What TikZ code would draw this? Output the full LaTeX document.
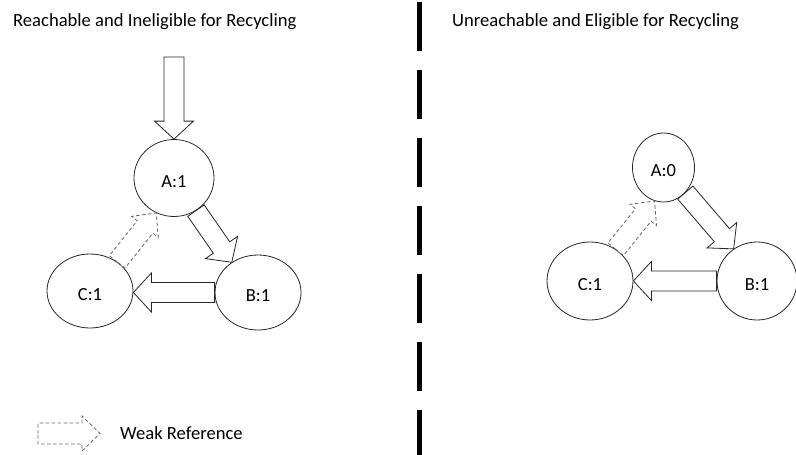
\documentclass[tikz,border=0pt]{standalone}
\usepackage{fontspec}
\setmainfont{Carlito}
\usetikzlibrary{calc,shapes.geometric}

\begin{document}
\begin{tikzpicture}[x=1pt,y=-1pt,
  % object in the heap
  obj/.style={ellipse, draw=black!85, line width=0.8pt, inner sep=0pt,
              text height=18pt, text depth=0pt,
              font=\fontsize{18.5}{20}\selectfont},
  % geometry of the block arrows
  arrow shaft/.store in=\bw, arrow head/.store in=\bh, arrow head length/.store in=\bl,
  arrow shaft=10pt, arrow head=19.5pt, arrow head length=18pt,
  % hollow block arrow from start to target
  blockarrow/.style={fill=white, line join=miter, to path={
      -- ($(\tikztostart)!\bw!90:(\tikztotarget)$)
      -- ($(\tikztotarget)!\bl!(\tikztostart)!\bw!90:(\tikztotarget)$)
      -- ($(\tikztotarget)!\bl!(\tikztostart)!\bh!90:(\tikztotarget)$)
      -- (\tikztotarget)
      -- ($(\tikztotarget)!\bl!(\tikztostart)!\bh!-90:(\tikztotarget)$)
      -- ($(\tikztotarget)!\bl!(\tikztostart)!\bw!-90:(\tikztotarget)$)
      -- ($(\tikztostart)!\bw!-90:(\tikztotarget)$)
      -- cycle}},
  strongref/.style={blockarrow, draw=black!85, line width=0.8pt},
  weakref/.style={blockarrow, draw=black!60, line width=0.8pt, dash pattern=on 3.5pt off 2.5pt},
  title/.style={anchor=base west, inner sep=0pt, font=\fontsize{18.6}{20}\selectfont, text=black},
]
\useasboundingbox (0,0) rectangle (796,455);

% headings
\node[title] (tl) at (13,26) {Reachable and Ineligible for Recycling};
\node[title] (tr) at (452,26) {Unreachable and Eligible for Recycling};

% divider between the two cases
\coordinate (divtop) at (419.5,1.7);
\coordinate (divbot) at (419.5,455);
\draw[line width=5pt, dash pattern=on 49pt off 19pt] (divtop) -- (divbot);

% ---- reachable cycle ----
\node[obj, minimum width=80pt, minimum height=77pt] (A) at (174,178) {A:1};
\node[obj, minimum width=86pt, minimum height=74pt] (C) at (90,291) {C:1};
\node[obj, minimum width=86pt, minimum height=75pt] (B) at (258,292.5) {B:1};
\coordinate (root) at (174,57);

\draw[strongref] (root) to (A.north);
\draw[strongref] (A.-56) to (B.131);
\draw[strongref] (B.west) to (C.east |- B.west);
\draw[weakref, arrow head=17pt] (C.47) to (A.-117);

% ---- unreachable cycle ----
\node[obj, minimum width=62pt, minimum height=69pt] (A2) at (663.5,167.5) {A:0};
\node[obj, minimum width=86pt, minimum height=78pt] (C2) at (590,281) {C:1};
\node[obj, minimum width=80pt, minimum height=78pt] (B2) at (757,281) {B:1};

\draw[strongref] (A2.-49) to (B2.126);
\draw[strongref] (B2.west) to (C2.east);
\draw[weakref, arrow head=17pt] (C2.51) to (A2.-105);

% ---- legend ----
\coordinate (lgs) at (38,433.5);
\coordinate (lgt) at (100,433.5);
\draw[weakref, arrow shaft=10.5pt, arrow head=17.5pt] (lgs) to (lgt);
\node[title, anchor=west] (lgtext) at (120,433.5) {Weak Reference};

\end{tikzpicture}
\end{document}
